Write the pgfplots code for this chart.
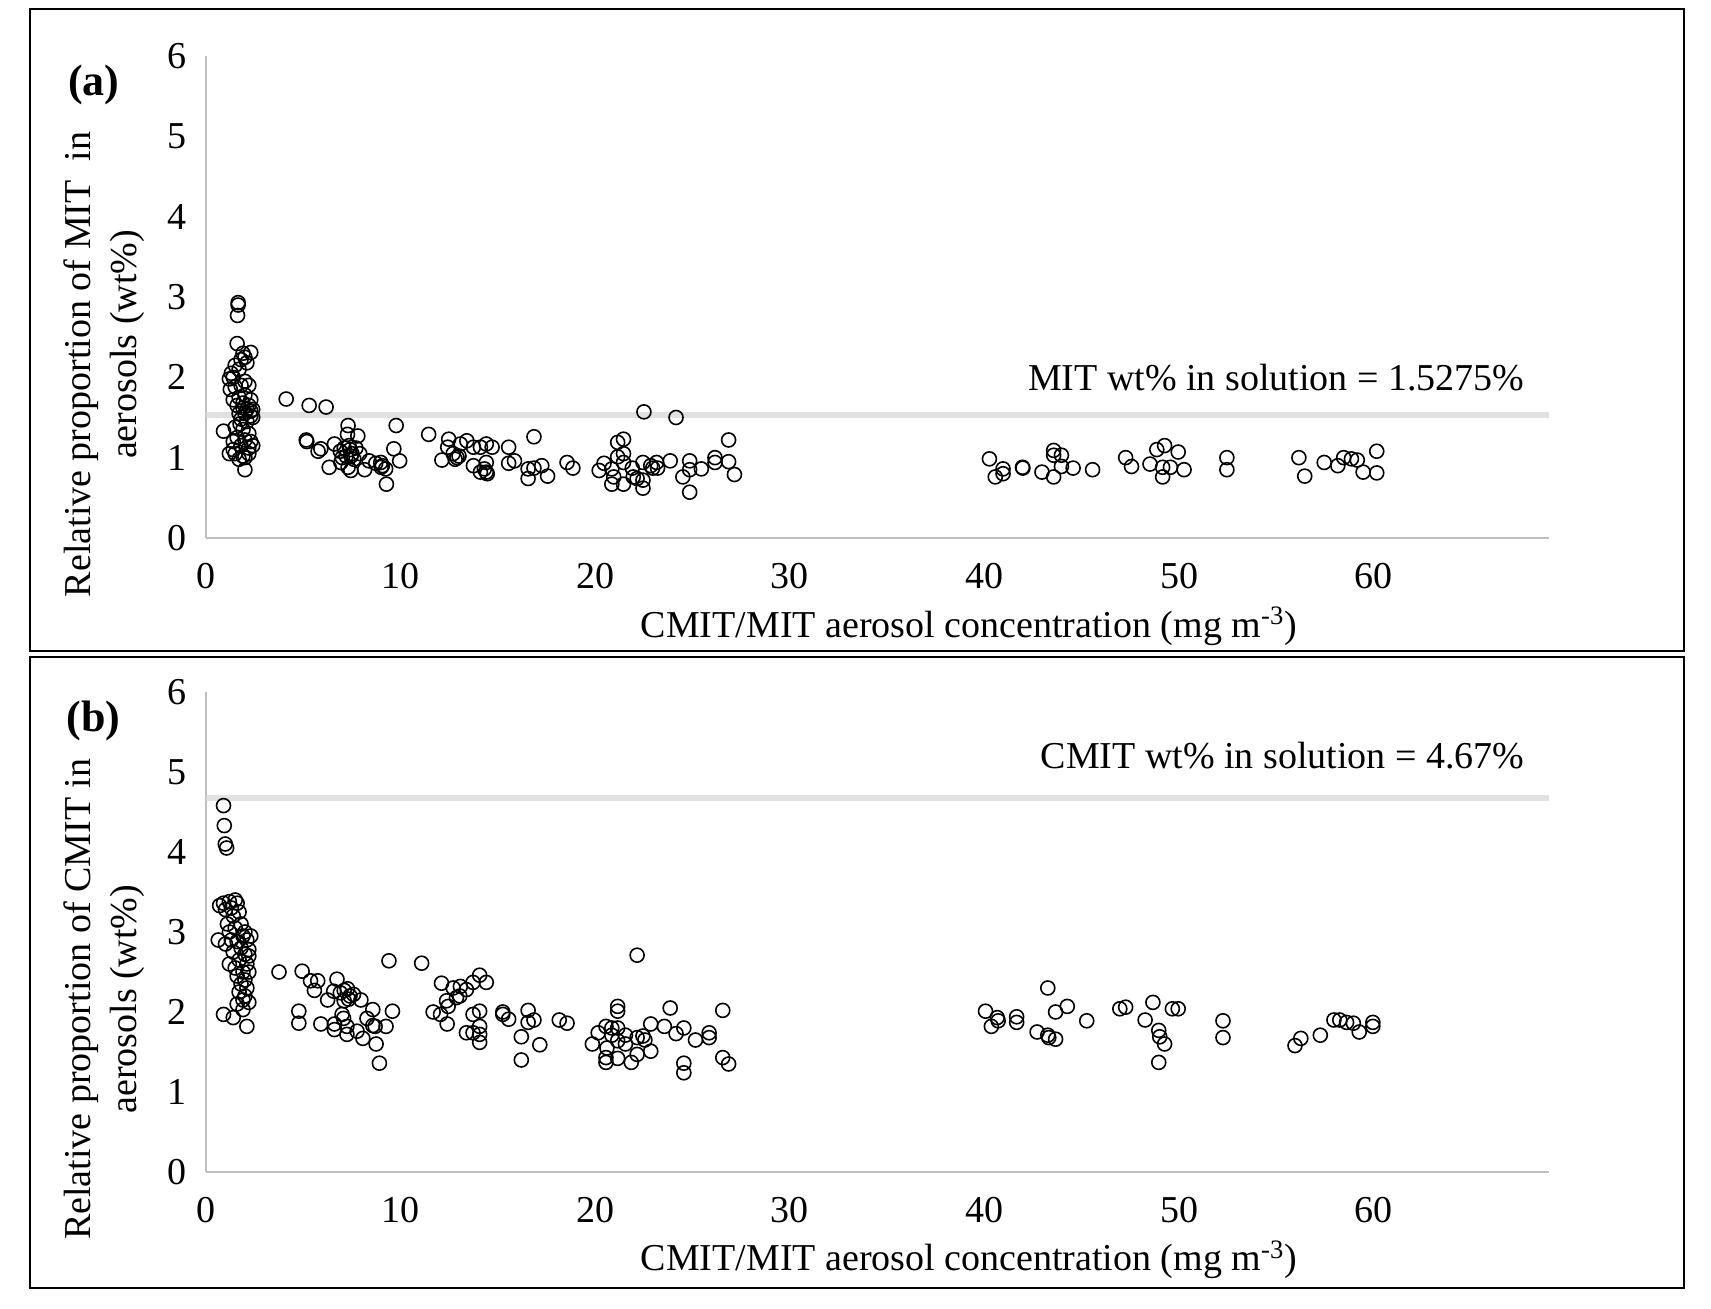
\documentclass[border=0pt]{standalone}
\usepackage{pgfplots}
\pgfplotsset{compat=1.18}
\usepackage{fontspec}
\setmainfont{Liberation Serif}
\definecolor{axisgray}{HTML}{BFBFBF}
\definecolor{refgray}{HTML}{D9D9D9}
\pgfplotsset{
  panel/.style={
    scale only axis, width=671.5pt,
    xmin=0, xmax=69, ymin=0, ymax=6,
    axis x line=bottom, axis y line=left,
    axis line style={-, axisgray, line width=1.1pt},
    xtick={0,10,...,60}, ytick={0,...,6},
    major tick length=0pt,
    tick label style={font=\fontsize{19}{22}\selectfont},
    /pgf/number format/assume math mode=true,
    yticklabel style={xshift=-6pt},
    xticklabel style={yshift=-9pt},
    label style={font=\fontsize{19}{23}\selectfont},
    xlabel={CMIT/MIT aerosol concentration (mg m\textsuperscript{-3})},
    xlabel style={at={(axis description cs:0.568,-0.183)}, anchor=center},
    ylabel style={at={(axis description cs:-0.0759,0.36)}, anchor=center, align=center},
    clip=false,
  },
  pts/.style={only marks, mark=o, mark size=3.5pt, mark options={line width=0.8pt, draw=black}},
  ref/.style={refgray, line width=3pt, opacity=0.8},
}
\begin{document}
\begin{tikzpicture}
\useasboundingbox (0,0) rectangle (855.5pt,654.5pt);
\draw[line width=1.2pt] (15pt,329pt) rectangle (842pt,650pt);
\draw[line width=1.2pt] (15pt,10.5pt) rectangle (842pt,326pt);

% (a) MIT
\begin{axis}[panel, height=241pt, at={(103pt,385.5pt)}, anchor=south west,
  ylabel={Relative proportion of MIT\ \ in\\\hspace*{20pt}aerosols (wt\%)}]
\addplot[pts] coordinates {
(1.65,2.93)(1.65,2.90)(1.62,2.77)(1.6,2.42)(2.3,2.31)(1.9,2.3)(2.0,2.25)(1.8,2.22)
(1.5,2.15)(1.3,2.05)(1.2,1.98)(1.4,2.0)(1.7,2.1)(2.1,2.18)(1.25,1.85)(1.5,1.88)
(1.8,1.9)(2.0,1.95)(2.2,1.9)(1.4,1.72)(1.7,1.75)(2.0,1.78)(2.3,1.72)(1.6,1.65)
(1.9,1.62)(2.2,1.65)(2.4,1.6)(1.7,1.55)(2.0,1.55)(2.3,1.52)(1.8,1.48)(2.1,1.45)
(2.4,1.5)(0.9,1.33)(1.5,1.38)(1.9,1.35)(2.2,1.3)(1.6,1.25)(2.0,1.22)(2.3,1.2)
(1.4,1.2)(1.8,1.15)(2.2,1.12)(2.4,1.15)(1.2,1.05)(1.5,1.05)(1.9,1.02)(2.2,1.05)
(1.4,1.1)(1.7,0.98)(2.0,1.0)(2.0,0.85)(1.9,1.68)(2.1,1.6)(2.3,1.58)(1.75,1.42)
(4.12,1.73)(5.3,1.65)(6.17,1.63)(5.15,1.22)(5.18,1.20)(5.9,1.11)(5.76,1.08)(6.33,0.88)
(6.6,1.17)(7.3,1.40)(7.27,1.29)(7.8,1.27)(6.9,1.08)(7.1,1.12)(7.2,1.02)(7.4,1.10)
(7.5,1.05)(7.6,0.98)(7.7,1.12)(7.35,1.15)(7.0,1.0)(7.9,1.05)(7.45,1.02)(6.93,0.94)
(7.44,0.84)(7.3,0.88)(8.15,0.85)(8.38,0.96)(8.72,0.93)(8.98,0.94)(9.06,0.90)(9.23,0.86)
(9.0,0.88)(9.27,0.67)(9.77,1.40)(9.65,1.11)(9.95,0.96)(11.44,1.29)(12.47,1.23)(12.42,1.13)
(12.12,0.97)(12.7,1.05)(12.9,1.0)(13.07,1.17)(13.4,1.21)(13.74,1.13)(14.1,1.13)(14.4,1.17)
(14.7,1.13)(12.8,0.98)(13.0,1.02)(13.74,0.90)(14.1,0.82)(14.4,0.82)(14.4,0.94)(14.3,0.86)
(14.45,0.80)
(22.5,1.57)(24.15,1.50)(16.85,1.26)(15.55,1.13)(15.85,0.96)(15.55,0.93)(16.55,0.86)(16.85,0.87)
(17.25,0.9)(16.55,0.74)(17.55,0.77)(18.55,0.94)(18.85,0.87)(20.2,0.84)(20.45,0.93)(20.85,0.86)
(20.95,0.76)(20.85,0.67)(21.15,1.19)(21.45,1.23)(21.15,1.01)(21.45,1.05)(21.45,0.94)(21.45,0.67)
(21.9,0.87)(21.95,0.76)(22.15,0.74)(22.45,0.72)(22.45,0.62)(22.45,0.94)(22.85,0.90)(22.95,0.87)
(23.15,0.94)(23.2,0.87)(23.85,0.96)(24.5,0.76)(24.85,0.96)(24.85,0.85)(25.45,0.86)(24.85,0.57)
(26.15,1.0)(26.15,0.94)(26.85,1.22)(26.85,0.95)(27.15,0.79)
(40.25,0.985)(40.55,0.76)(40.95,0.86)(40.95,0.80)(41.95,0.88)(41.97,0.87)(42.95,0.82)(43.55,1.09)
(43.55,1.03)(43.95,1.03)(43.55,0.76)(43.95,0.89)(44.55,0.87)(45.55,0.85)(47.25,1.0)(47.55,0.89)
(48.5,0.92)(48.85,1.10)(49.25,1.15)(49.15,0.88)(49.15,0.76)(49.55,0.88)(49.95,1.07)(50.25,0.85)
(52.45,1.0)(52.45,0.85)(56.15,1.0)(56.45,0.77)(57.45,0.94)(58.15,0.90)(58.45,1.0)(58.85,0.985)
(59.15,0.97)(59.45,0.82)(60.15,1.08)(60.15,0.81)
};
\addplot[ref] coordinates {(0,1.5275)(69,1.5275)};
\node[font=\bfseries\fontsize{22}{26}\selectfont] at (axis cs:-5.77,5.64) {(a)};
\node[anchor=east, font=\fontsize{19}{22}\selectfont] at (axis cs:68.1,2.0) {MIT wt\% in solution = 1.5275\%};
\end{axis}

% (b) CMIT
\begin{axis}[panel, height=240pt, at={(103pt,68.5pt)}, anchor=south west,
  ylabel={Relative proportion of CMIT in\\aerosols (wt\%)}]
\addplot[pts] coordinates {
(0.9,4.58)(0.94,4.33)(0.99,4.10)(1.06,4.05)
(0.7,3.33)(0.9,3.36)(1.2,3.38)(1.5,3.4)(1.6,3.36)(1.3,3.3)(1.0,3.28)(1.7,3.25)
(1.4,3.2)(1.8,3.1)(1.5,3.05)(1.2,3.0)(1.9,2.95)(0.63,2.9)(1.0,2.85)(1.6,2.88)
(2.1,2.9)(1.8,2.8)(1.4,2.75)(2.0,2.72)(2.2,2.78)(1.7,2.65)(2.1,2.6)(1.2,2.6)
(1.5,2.55)(1.9,2.5)(2.2,2.5)(1.6,2.45)(2.0,2.4)(1.8,2.35)(2.1,2.3)(1.7,2.25)
(2.0,2.2)(1.9,2.15)(2.2,2.12)(1.6,2.1)(0.9,1.97)(1.4,1.93)(2.1,1.82)(1.9,2.03)
(2.2,2.7)(1.3,2.9)(2.3,2.95)(1.1,3.1)(2.0,3.0)
(3.75,2.50)(4.94,2.51)(5.37,2.39)(5.74,2.39)(5.57,2.27)(4.77,2.01)(4.77,1.86)(5.9,1.85)
(6.25,2.15)(6.73,2.41)(6.56,2.26)(6.9,2.24)(7.1,2.27)(7.27,2.29)(7.4,2.2)(7.58,2.22)
(7.1,2.14)(7.33,2.16)(7.96,2.15)(6.99,1.97)(7.07,1.92)(6.6,1.85)(6.6,1.78)(7.24,1.82)
(7.24,1.72)(7.76,1.76)(8.06,1.67)(8.27,1.92)(8.57,2.03)(8.57,1.83)(8.69,1.82)(8.74,1.60)
(9.25,1.82)(9.58,2.01)(8.91,1.36)(9.4,2.64)(11.08,2.61)(12.1,2.36)(11.67,2.0)(12.05,1.97)
(12.39,1.85)(12.36,2.14)(12.44,2.07)(12.7,2.30)(13.07,2.32)(12.87,2.18)(13.04,2.2)(13.38,2.28)
(13.72,2.37)(14.06,2.46)(14.4,2.37)(13.72,1.97)(14.06,2.01)(14.06,1.82)(14.06,1.72)(14.06,1.62)
(13.38,1.74)(13.72,1.74)
(22.15,2.71)(15.25,2.0)(15.25,1.97)(15.55,1.91)(16.55,2.02)(16.55,1.87)(16.85,1.90)(16.2,1.69)
(17.15,1.59)(16.2,1.40)(18.15,1.90)(18.55,1.86)(19.85,1.60)(20.15,1.74)(20.55,1.82)(20.85,1.80)
(21.15,1.80)(20.6,1.55)(20.55,1.43)(20.55,1.37)(20.85,1.71)(21.15,2.07)(21.15,2.01)(21.15,1.64)
(21.15,1.42)(21.55,1.71)(21.55,1.60)(21.85,1.37)(22.15,1.68)(22.15,1.47)(22.45,1.70)(22.55,1.65)
(22.85,1.85)(22.85,1.51)(23.55,1.82)(23.85,2.05)(24.15,1.73)(24.55,1.80)(24.55,1.36)(24.55,1.24)
(25.15,1.65)(25.85,1.74)(25.85,1.68)(26.55,2.02)(26.55,1.43)(26.85,1.35)
(40.05,2.01)(40.35,1.82)(40.65,1.93)(40.7,1.89)(41.65,1.94)(41.65,1.87)(42.7,1.75)(43.25,2.30)
(43.25,1.71)(43.3,1.68)(43.65,1.66)(43.65,2.0)(44.25,2.07)(45.25,1.89)(46.95,2.04)(47.25,2.06)
(48.65,2.12)(48.25,1.90)(48.95,1.77)(49.0,1.69)(49.25,1.60)(48.95,1.37)(49.65,2.04)(49.95,2.04)
(52.25,1.89)(52.25,1.68)(55.95,1.58)(56.25,1.67)(57.25,1.71)(57.95,1.90)(58.25,1.90)(58.6,1.87)
(58.95,1.86)(59.25,1.75)(59.95,1.87)(59.95,1.82)
};
\addplot[ref] coordinates {(0,4.67)(69,4.67)};
\node[font=\bfseries\fontsize{22}{26}\selectfont] at (axis cs:-5.77,5.64) {(b)};
\node[anchor=east, font=\fontsize{19}{22}\selectfont] at (axis cs:68.1,5.21) {CMIT wt\% in solution = 4.67\%};
\end{axis}
\end{tikzpicture}
\end{document}
